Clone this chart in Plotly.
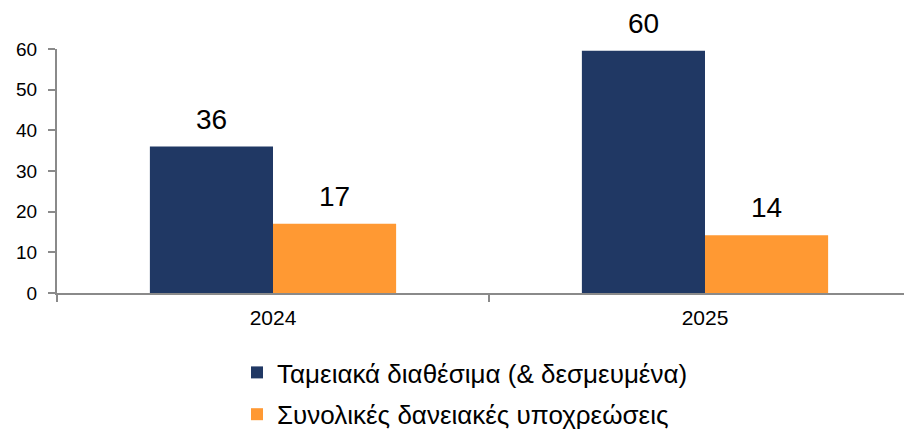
import plotly.graph_objects as go

categories = ["2024", "2025"]
series_names = ["Ταμειακά διαθέσιμα (& δεσμευμένα)", "Συνολικές δανειακές υποχρεώσεις"]
cash_values = [36, 59.6]
debt_values = [17, 14.2]
cash_labels = ["36", "60"]
debt_labels = ["17", "14"]
y_ticks = [0, 10, 20, 30, 40, 50, 60]

NAVY = "#203864"
ORANGE = "#FF9933"
AXIS = "#8a8a8a"
FONT = "Liberation Sans, Arial, sans-serif"

# the page body has an 8px default margin, so the figure is 8px smaller
OFF = 8
W, H = 912 - OFF, 436 - OFF
ML, MR, MT = 57 - OFF, 0, 49.3 - OFF
MB = H - (292.7 - OFF)
BARGAP = 0.43
CAT_PX = 432  # pixel width of one category slot
plot_w = W - ML - MR
x_max = -0.5 + plot_w / CAT_PX

fig = go.Figure()
fig.add_trace(go.Bar(x=categories, y=cash_values, name=series_names[0],
                     marker=dict(color=NAVY, line=dict(width=0)), legendgroup="a"))
fig.add_trace(go.Bar(x=categories, y=debt_values, name=series_names[1],
                     marker=dict(color=ORANGE, line=dict(width=0)), legendgroup="b"))

bar_px = CAT_PX * (1 - BARGAP) / 2
annotations = []
for vals, labels, sign in [(cash_values, cash_labels, -1), (debt_values, debt_labels, 1)]:
    for i, (v, t) in enumerate(zip(vals, labels)):
        annotations.append(dict(x=i, y=v, xref="x", yref="y", text=t, showarrow=False,
                                xanchor="center", yanchor="bottom", xshift=sign * bar_px / 2,
                                yshift=11, borderpad=0,
                                font=dict(family=FONT, size=28, color="#000000")))

fig.update_layout(
    width=W, height=H,
    margin=dict(l=ML, r=MR, t=MT, b=MB, pad=0, autoexpand=False),
    paper_bgcolor="white", plot_bgcolor="white",
    barmode="group", bargap=BARGAP, bargroupgap=0,
    font=dict(family=FONT, color="#000000"),
    showlegend=True,
    legend=dict(orientation="v", x=(237 - OFF) / W, xanchor="left", xref="container",
                y=(H - (349 - OFF)) / H, yanchor="top", yref="container",
                font=dict(family=FONT, size=26, color="#000000"),
                tracegroupgap=5, itemclick=False, bgcolor="rgba(0,0,0,0)"),
    annotations=annotations,
)
fig.update_xaxes(type="category", range=[-0.5, x_max], showline=True, linecolor=AXIS, linewidth=2,
                 ticks="outside", tickson="boundaries", ticklen=7, tickwidth=2, tickcolor=AXIS,
                 showgrid=False, zeroline=False, ticklabelstandoff=5,
                 tickfont=dict(family=FONT, size=21, color="#000000"))
fig.update_yaxes(range=[0, 60], tickvals=y_ticks, showline=True, linecolor=AXIS, linewidth=2,
                 ticks="outside", ticklen=7, tickwidth=2, tickcolor=AXIS,
                 showgrid=False, zeroline=False, ticklabelstandoff=7,
                 tickfont=dict(family=FONT, size=19, color="#000000"))

fig.write_html("out.html")
